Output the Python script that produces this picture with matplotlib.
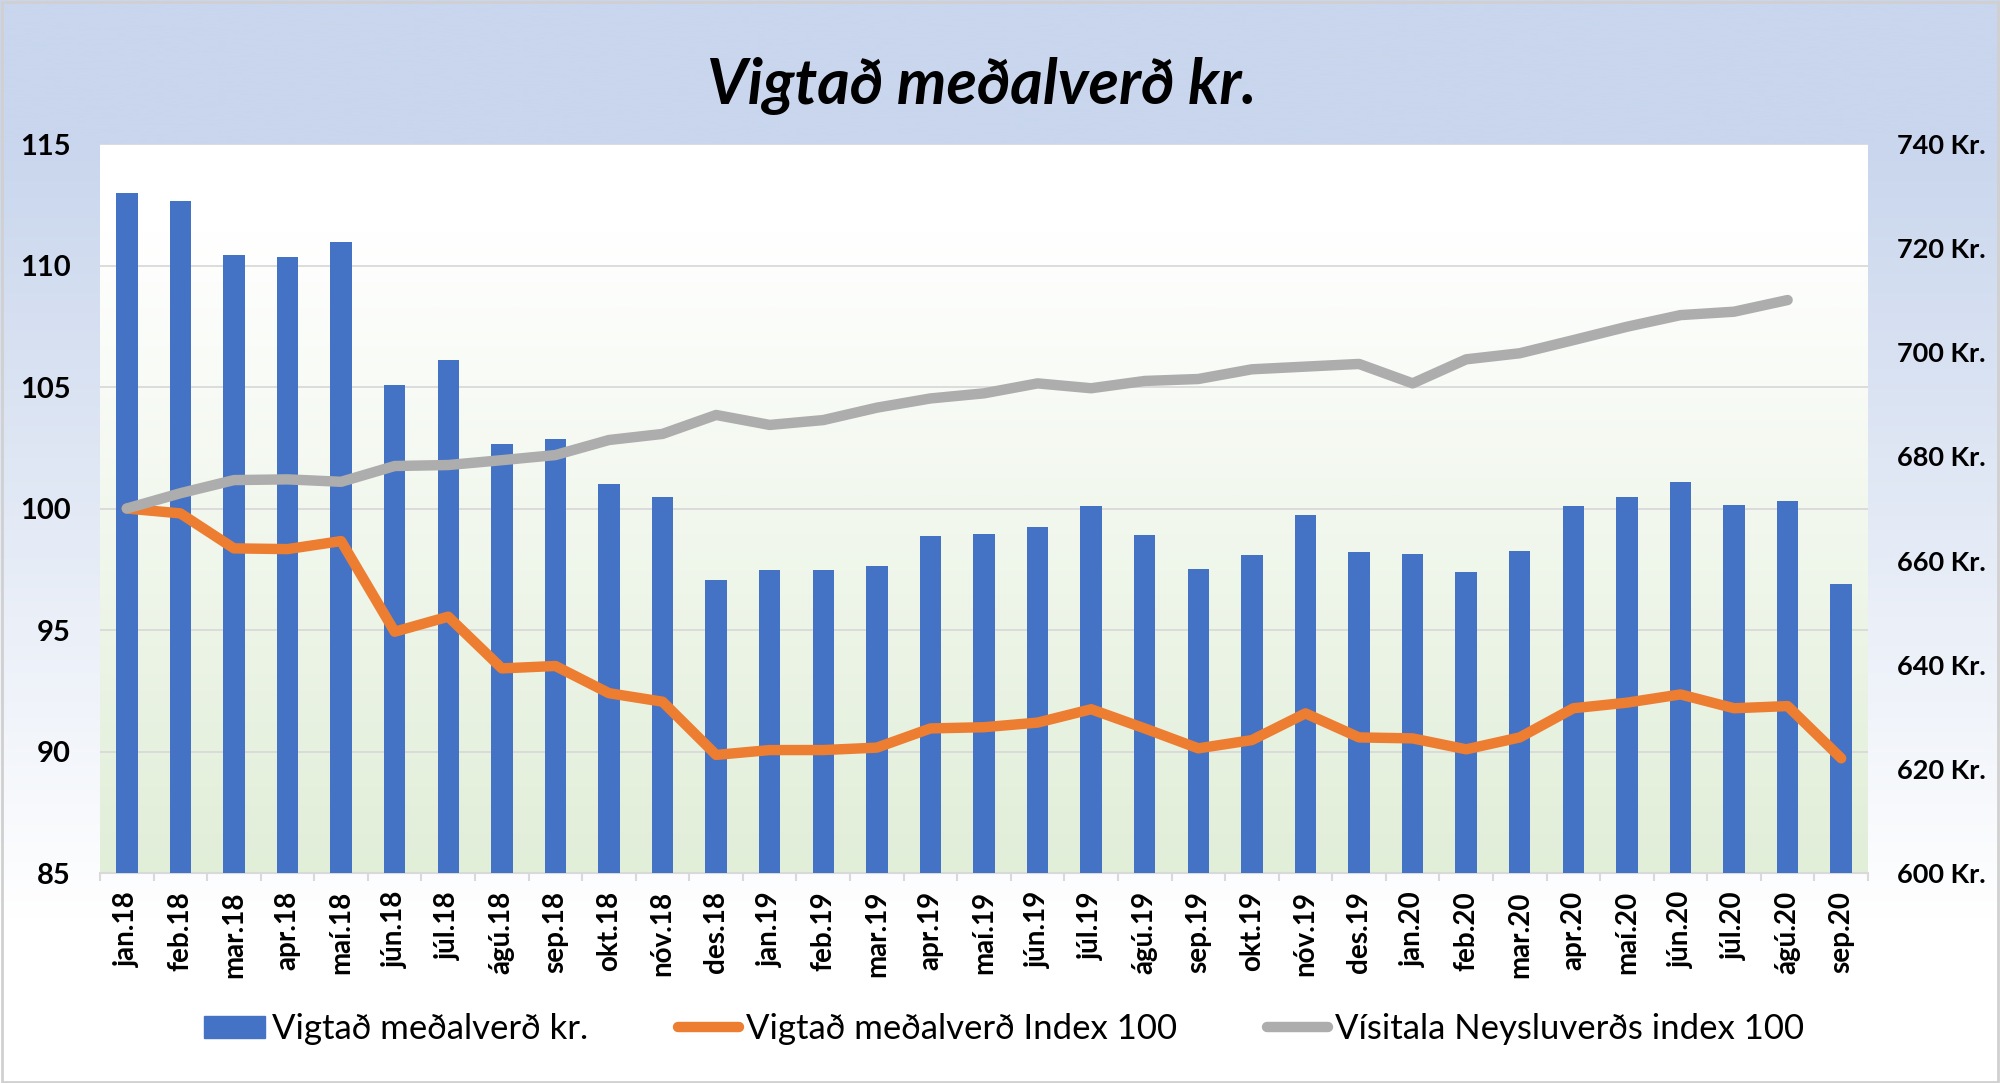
import numpy as np
import matplotlib
matplotlib.use("Agg")
import matplotlib.pyplot as plt
from matplotlib.colors import LinearSegmentedColormap
from matplotlib.patches import Rectangle, Patch
from matplotlib.lines import Line2D

plt.rcParams['font.family'] = ['Lato', 'DejaVu Sans']

months = ['jan.18', 'feb.18', 'mar.18', 'apr.18', 'maí.18', 'jún.18', 'júl.18', 'ágú.18',
          'sep.18', 'okt.18', 'nóv.18', 'des.18', 'jan.19', 'feb.19', 'mar.19', 'apr.19',
          'maí.19', 'jún.19', 'júl.19', 'ágú.19', 'sep.19', 'okt.19', 'nóv.19', 'des.19',
          'jan.20', 'feb.20', 'mar.20', 'apr.20', 'maí.20', 'jún.20', 'júl.20', 'ágú.20', 'sep.20']

price_kr = [730.6, 729.1, 718.6, 718.4, 721.2, 693.7, 698.5, 682.4, 683.3, 674.8, 672.2,
            656.3, 658.1, 658.1, 658.9, 664.7, 665.1, 666.4, 670.4, 665.0, 658.4, 661.1,
            668.8, 661.7, 661.3, 657.9, 661.8, 670.5, 672.3, 675.0, 670.6, 671.4, 655.5]

price_index = [100.0, 99.8, 98.36, 98.33, 98.66, 94.93, 95.55, 93.42, 93.52, 92.4, 92.05,
               89.86, 90.06, 90.06, 90.16, 90.95, 91.0, 91.19, 91.74, 90.95, 90.13, 90.47,
               91.57, 90.58, 90.54, 90.09, 90.58, 91.78, 92.01, 92.35, 91.78, 91.87, 89.72]

cpi_index = [100.0, 100.63, 101.17, 101.2, 101.1, 101.75, 101.79, 101.99, 102.2, 102.82, 103.07,
             103.85, 103.44, 103.64, 104.15, 104.53, 104.74, 105.15, 104.95, 105.25, 105.33, 105.73,
             105.84, 105.95, 105.15, 106.14, 106.39, 106.93, 107.48, 107.96, 108.1, 108.58, np.nan]

left_ticks = [85, 90, 95, 100, 105, 110, 115]
right_ticks = [600, 620, 640, 660, 680, 700, 720, 740]

title = 'Vigtað meðalverð kr.'
labels = ['Vigtað meðalverð kr.', 'Vigtað meðalverð Index 100', 'Vísitala Neysluverðs index 100']

BLUE = '#4472C4'
ORANGE = '#ED7D31'
GREY = '#ADADAD'
GRID = '#D9D9D9'

fig = plt.figure(figsize=(20, 10.83), dpi=100)

# figure background gradient
bg = fig.add_axes([0, 0, 1, 1], zorder=-10)
bg_cmap = LinearSegmentedColormap.from_list(
    'bg', [(0.0, '#C9D6ED'), (0.13, '#C9D6ED'), (0.85, '#FFFFFF'), (1.0, '#FFFFFF')])
grad = np.linspace(0, 1, 512).reshape(-1, 1)
bg.imshow(grad, aspect='auto', cmap=bg_cmap, extent=[0, 1, 0, 1], origin='upper')
bg.set_xlim(0, 1); bg.set_ylim(0, 1)
bg.axis('off')
fig.patches.append(Rectangle((0.001, 0.001), 0.998, 0.997, transform=fig.transFigure,
                             fill=False, edgecolor='#D0D0D0', lw=2))

x = np.arange(len(months))
pos = [0.05, 0.1939, 0.884, 0.6731]

ax = fig.add_axes(pos, zorder=1)
ax.patch.set_visible(False)
pa_cmap = LinearSegmentedColormap.from_list('pa', [(0.0, '#FFFFFF'), (0.12, '#FFFFFF'), (1.0, '#E1EED8')])
ax.imshow(grad, aspect='auto', cmap=pa_cmap, extent=[0, 1, 0, 1], origin='upper',
          transform=ax.transAxes, zorder=0)
ax.set_xlim(-0.5, len(months) - 0.5)
ax.set_ylim(85, 115)
ax.set_yticks(left_ticks)
ax.set_yticklabels([str(v) for v in left_ticks], fontsize=21, fontweight='bold')
ax.yaxis.grid(True, color=GRID, lw=1.3, zorder=0.5)
ax.set_axisbelow(True)
ax.tick_params(axis='y', length=0, pad=21)
for s in ['top', 'left', 'right']:
    ax.spines[s].set_visible(False)
ax.spines['bottom'].set_color(GRID)
ax.spines['bottom'].set_linewidth(1.5)
ax.set_xticks(x)
ax.set_xticklabels(months, rotation=90, fontsize=20, fontweight='bold')
ax.set_xticks(np.arange(-0.5, len(months), 1.0), minor=True)
ax.tick_params(axis='x', which='major', length=0, pad=13)
ax.tick_params(axis='x', which='minor', length=6, color=GRID, width=1.5)

# bars on right axis
axb = ax.twinx()
axb.set_zorder(2)
axb.patch.set_visible(False)
axb.bar(x, price_kr, width=0.4, color=BLUE, zorder=2)
axb.set_ylim(600, 740)
axb.set_yticks(right_ticks)
axb.set_yticklabels([f'{v} Kr.' for v in right_ticks], fontsize=19.5, fontweight='bold')
axb.tick_params(axis='y', length=0, pad=21)
for s in axb.spines.values():
    s.set_visible(False)

# lines on left scale, on top
axl = ax.twinx()
axl.set_zorder(3)
axl.patch.set_visible(False)
axl.set_ylim(85, 115)
axl.plot(x, price_index, color=ORANGE, lw=7.5, solid_joinstyle='round', solid_capstyle='round')
axl.plot(x, cpi_index, color=GREY, lw=7.5, solid_joinstyle='round', solid_capstyle='round')
axl.set_yticks([])
for s in axl.spines.values():
    s.set_visible(False)

fig.text(0.491, 0.921, title, ha='center', va='center', fontsize=45,
         fontweight='bold', fontstyle='italic')

handles = [Patch(facecolor=BLUE, edgecolor=BLUE),
           Line2D([0], [0], color=ORANGE, lw=7.5, solid_capstyle='round'),
           Line2D([0], [0], color=GREY, lw=7.5, solid_capstyle='round')]
fig.legend(handles, labels, loc='center', bbox_to_anchor=(0.502, 0.05), ncol=3,
           frameon=False, fontsize=25, handlelength=1.75, handleheight=0.6,
           handletextpad=0.2, columnspacing=2.6)

fig.savefig('out.png', dpi=100)
